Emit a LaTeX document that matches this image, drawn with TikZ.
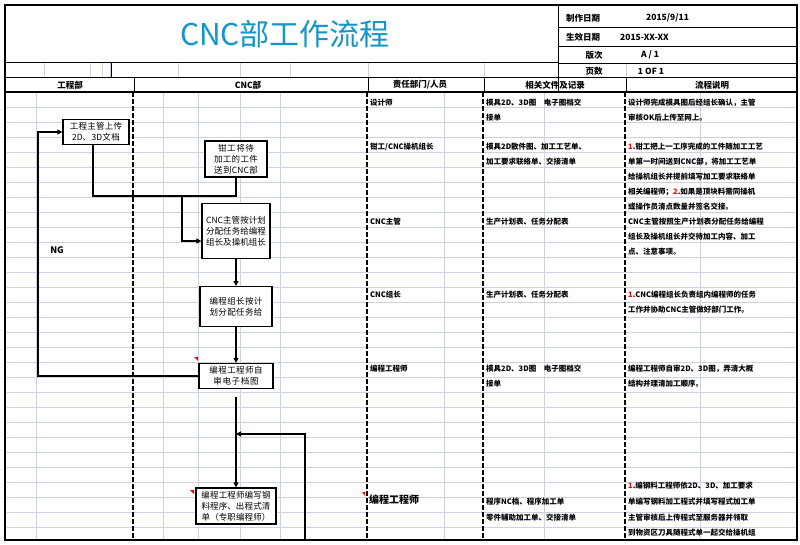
\documentclass[tikz,border=0pt]{standalone}
\usepackage{fontspec}
\setmainfont{Noto Sans CJK SC}
\XeTeXlinebreaklocale "zh"
\XeTeXlinebreakskip=0pt plus 1pt
\usetikzlibrary{arrows.meta}
\definecolor{titleblue}{RGB}{20,150,200}
\definecolor{gridc}{RGB}{205,210,225}
\tikzset{
 flowbox/.style={draw,line width=1.3pt,fill=white,align=center,font=\fontsize{8.5}{11}\selectfont,inner sep=3pt,text width=#1},
 flowbox/.default=60pt,
 conn/.style={line width=1.3pt},
 arr/.style={conn,-{Triangle[length=5pt,width=5pt]}},
 cell/.style={anchor=west,font=\bfseries\fontsize{7.5}{9}\selectfont,inner sep=0pt},
 hd/.style={font=\bfseries\fontsize{8.5}{10}\selectfont,inner sep=0pt},
 dline/.style={line width=1.2pt,dash pattern=on 5pt off 2pt},
 redmark/.style={fill=red,draw=none}
}
\begin{document}
\begin{tikzpicture}[x=1pt,y=-1pt]
\useasboundingbox (0,0) rectangle (800,545);
\fill[white] (0,0) rectangle (800,545);
% light grid
\foreach \y in {107,122,137,152,167,182,197,212,227,242,257,272,287,302,317,332,347,362,377,392,407,422,437,452,467,482,497,512,527}
  \draw[gridc,line width=0.6pt] (6,\y) -- (796,\y);
\foreach \x in {36,163,198,240,280,444,544,700}
  \draw[gridc,line width=0.6pt] (\x,92) -- (\x,539);
\foreach \x in {44,90,102,110,178,240,290,368,484,626}
  \draw[gridc,line width=0.6pt] (\x,63) -- (\x,78);
% frame
\draw[line width=1.6pt] (5,5) rectangle (797,540);
\draw[line width=1pt] (5,63) -- (558,63);
\draw[line width=1pt] (558,5) -- (558,92);
\draw[line width=0.8pt] (558,27) -- (797,27) (558,46) -- (797,46) (558,63) -- (797,63);
\draw[line width=1pt] (5,78) -- (797,78);
\draw[line width=1.6pt] (5,92) -- (797,92);
\draw[line width=0.8pt] (111,63) -- (111,78);
\foreach \x in {134,368,484,626} \draw[line width=0.8pt] (\x,78) -- (\x,92);
\foreach \x in {133,367,483,625} \draw[dline] (\x,92) -- (\x,539);
% title
\node[font=\fontsize{30}{32}\selectfont,text=titleblue] (title) at (285,34) {CNC部工作流程};
\node[hd,anchor=west] (h1) at (566,18) {制作日期};
\node[hd,anchor=west] (h1v) at (646,18) {2015/9/11};
\node[hd,anchor=west] (h2) at (566,37) {生效日期};
\node[hd,anchor=west] (h2v) at (620,37) {2015-XX-XX};
\node[hd] (h3) at (594,55) {版次};
\node[hd] (h3v) at (650,55) {A / 1};
\node[hd] (h4) at (594,71) {页数};
\node[hd] (h4v) at (651,71) {1 OF 1};
\node[hd] (c1) at (70,85) {工程部};
\node[hd] (c2) at (248,85) {CNC部};
\node[hd] (c3) at (420,85) {责任部门/人员};
\node[hd] (c4) at (555,85) {相关文件及记录};
\node[hd] (c5) at (712,85) {流程说明};
% flow boxes
\node[flowbox=60pt] (A) at (96,132) {工程主管上传\\2D、3D文档};
\node[flowbox=56pt] (B) at (236,159) {钳工将待加工的工件送到CNC部};
\node[flowbox=62pt,minimum height=55pt] (C) at (236,231) {CNC主管按计划分配任务给编程组长及操机组长};
\node[flowbox=66pt,minimum height=40pt,anchor=north] (D) at (236,286) {编程组长按计划分配任务给};
\node[flowbox=68pt] (E) at (236,376) {编程工程师自审电子档图};
\node[flowbox=74pt] (F) at (236,506) {编程工程师编写钢料程序、出程式清单（专职编程师）};
\node[font=\bfseries\fontsize{9}{10}\selectfont] (ng) at (57,250) {NG};
\coordinate (j1) at (93,196);
\coordinate (j2) at (182,196);
\coordinate (j3) at (236,434);
\coordinate (loopend) at (305,539);
\draw[conn] (A.south -| j1) -- (j1) -- (B.south |- j1) -- (B.south);
\draw[arr] (j2) |- (C.west |- 0,241);
\draw[arr] (C) -- (D);
\draw[arr] (D) -- (E);
\draw[arr] (E.west) -| (38,132) -- (A.west);
\draw[arr] (E.south |- 0,397) -- (F.north);
\draw[arr] (loopend) |- (j3);
\fill[redmark] (194,357) -- (198,357) -- (198,361) -- cycle;
\fill[redmark] (190,490) -- (194,490) -- (194,494) -- cycle;
\fill[redmark] (362,492) -- (365,492) -- (365,496) -- cycle;
% columns text
\node[cell] (r1a) at (370,103) {设计师};
\node[cell] (r1b) at (486,103) {模具2D、3D图\quad 电子图档交};
\node[cell] (r1b2) at (486,118) {接单};
\node[cell] (r2a) at (370,147) {钳工/CNC操机组长};
\node[cell] (r2b) at (486,147) {模具2D散件图、加工工艺单、};
\node[cell] (r2b2) at (486,162) {加工要求联络单、交接清单};
\node[cell] (r3a) at (370,222) {CNC主管};
\node[cell] (r3b) at (486,222) {生产计划表、任务分配表};
\node[cell] (r4a) at (370,295) {CNC组长};
\node[cell] (r4b) at (486,295) {生产计划表、任务分配表};
\node[cell] (r5a) at (370,369) {编程工程师};
\node[cell] (r5b) at (486,369) {模具2D、3D图\quad 电子图档交};
\node[cell] (r5b2) at (486,384) {接单};
\node[cell,font=\bfseries\fontsize{10}{11}\selectfont] (r6a) at (369,500) {编程工程师};
\node[cell] (r6b) at (486,502) {程序NC档、程序加工单};
\node[cell] (r6b2) at (486,518) {零件辅助加工单、交接清单};
\begin{scope}
\clip (626,93) rectangle (796,539);
\node[cell] (d1) at (628,103) {设计师完成模具图后经组长确认，主管};
\node[cell] (d1b) at (628,118) {审核OK后上传至网上。};
\node[cell] (d2) at (628,147) {{\color{red}1}.钳工把上一工序完成的工件随加工工艺};
\node[cell] (d2b) at (628,162) {单第一时间送到CNC部，将加工工艺单};
\node[cell] (d2c) at (628,177) {给操机组长并提前填写加工要求联络单};
\node[cell] (d2d) at (628,192) {相关编程师；{\color{red}2}.如果是顶块料需同操机};
\node[cell] (d2e) at (628,207) {或操作员清点数量并签名交接。};
\node[cell] (d3) at (628,222) {CNC主管按照生产计划表分配任务给编程};
\node[cell] (d3b) at (628,237) {组长及操机组长并交待加工内容、加工};
\node[cell] (d3c) at (628,252) {点、注意事项。};
\node[cell] (d4) at (628,295) {{\color{red}1}.CNC编程组长负责组内编程师的任务};
\node[cell] (d4b) at (628,310) {工作并协助CNC主管做好部门工作。};
\node[cell] (d5) at (628,369) {编程工程师自审2D、3D图，弄清大概};
\node[cell] (d5b) at (628,384) {结构并理清加工顺序。};
\node[cell] (d6) at (628,486) {{\color{red}1}.编钢料工程师依2D、3D、加工要求};
\node[cell] (d6b) at (628,502) {单编写钢料加工程式并填写程式加工单};
\node[cell] (d6c) at (628,518) {主管审核后上传程式至服务器并领取};
\node[cell] (d6d) at (628,533) {到物资区刀具随程式单一起交给操机组};
\end{scope}
\end{tikzpicture}
\end{document}
